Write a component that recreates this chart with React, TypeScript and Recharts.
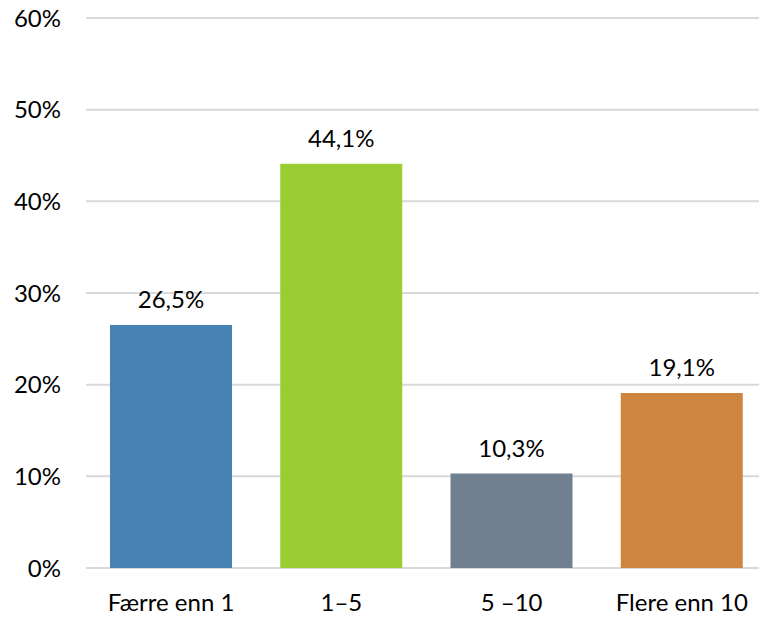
import { Bar, BarChart, CartesianGrid, Cell, LabelList, XAxis, YAxis } from 'recharts';

const categories = ['Færre enn 1', '1–5', '5 –10', 'Flere enn 10'];
const shares = [26.5, 44.1, 10.3, 19.1];
const colors = ['#4682B4', '#9ACD32', '#708090', '#CD853F'];
const yTicks = [0, 10, 20, 30, 40, 50, 60];

const data = categories.map((name, i) => ({ name, value: shares[i] }));
const font = { fontFamily: 'Lato, "Open Sans", sans-serif', fontSize: 24, fill: '#000' };

export default function App() {
  return (
    <div style={{ position: 'absolute', left: 0, top: 0, width: 759, height: 617, background: '#fff', overflow: 'hidden' }}>
      <BarChart width={759} height={617} data={data} margin={{ top: 18, right: -8, bottom: 0, left: 0 }}>
        <CartesianGrid vertical={false} stroke="#d9d9d9" strokeWidth={2} />
        <XAxis dataKey="name" axisLine={false} tickLine={false} height={49} tickMargin={20} tick={font} interval={0} />
        <YAxis
          domain={[0, 60]}
          ticks={yTicks}
          width={86}
          axisLine={false}
          tickLine={false}
          tickMargin={19}
          tick={font}
          tickFormatter={(v: number) => `${v}%`}
        />
        <Bar dataKey="value" barSize={122} isAnimationActive={false}>
          {data.map((_, i) => (
            <Cell key={i} fill={colors[i]} />
          ))}
          <LabelList
            dataKey="value"
            position="top"
            offset={17}
            style={font}
            formatter={(v: any) => `${String(v).replace('.', ',')}%`}
          />
        </Bar>
      </BarChart>
    </div>
  );
}
